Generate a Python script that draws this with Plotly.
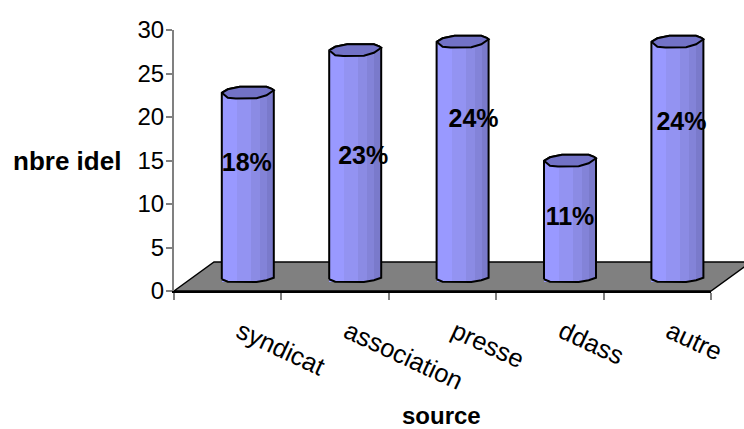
import plotly.graph_objects as go

# Data
categories = ["syndicat", "association", "presse", "ddass", "autre"]
nbre_idel = [22, 27, 28, 14, 28]
parts = ["18%", "23%", "24%", "11%", "24%"]
y_ticks = [0, 5, 10, 15, 20, 25, 30]

W, H = 744, 429
LEFT, RIGHT, TOP, BOTTOM = 174, 711, 30, 291   # front plane, pixels
UNIT_X = (RIGHT - LEFT) / 5
UNIT_Y = 8.5           # pixels per unit on the mid-depth plane
COL_ZERO = 279.3       # pixel row of value 0 on the mid-depth plane
COL_FIRST = 247.8      # pixel column of the first cylinder axis
LABEL_FIRST = 240      # pixel column where the first category label starts
FONT = "Liberation Sans"

# Facets of the cylinder body, left to right: (pixels from axis, width, colour)
FACETS = [
    (-26, 15, "#9999ff"),
    (-11, 14, "#9393f2"),
    (3, 9, "#8b8be4"),
    (12, 7, "#8383d8"),
    (19, 7, "#7a7acb"),
]
CAP_BACK = [(-26, -0.5), (-20, 3), (-8, 5.5), (18.7, 5.5), (24, 3.5), (26, 2)]
CAP_FRONT = [(26, 2), (18.7, -3), (8.7, -6), (-12, -6.3), (-20, -5.5), (-26, -0.5)]
FOOT = [(-26, 0), (-20, -2.4), (8.7, -2.7), (18.7, -1), (26, 1.5)]

# Data label centres: (pixels from axis, height on the value scale)
LABEL_SPOTS = [(-1, 13.5), (8, 14.3), (11, 18.6), (0, 7.1), (4, 18.3)]


def foot_drop(px):
    """Depth of the curved foot below value 0 at a pixel offset from the axis."""
    for (x0, y0), (x1, y1) in zip(FOOT, FOOT[1:]):
        if x0 <= px <= x1:
            return (y0 + (y1 - y0) * (px - x0) / (x1 - x0)) / UNIT_Y
    return 0


fig = go.Figure()

# Cylinder bodies, one bar trace per facet
for off, wid, colour in FACETS:
    mid = off + wid / 2
    fig.add_trace(go.Bar(
        x=[i + mid / UNIT_X for i in range(len(nbre_idel))],
        y=nbre_idel,
        base=[foot_drop(mid)] * len(nbre_idel),
        width=wid / UNIT_X,
        marker=dict(color=colour, line=dict(width=0)),
        xaxis="x2", yaxis="y2", showlegend=False, hoverinfo="skip",
    ))

# Outline and top cap of each cylinder
for i, v in enumerate(nbre_idel):
    xs = [i + p / UNIT_X for p, _ in FOOT]
    ys = [q / UNIT_Y for _, q in FOOT]
    xs += [i + p / UNIT_X for p, _ in CAP_BACK[::-1]] + [i - 26 / UNIT_X, xs[0]]
    ys += [v + q / UNIT_Y for _, q in CAP_BACK[::-1]] + [v - 0.5 / UNIT_Y, ys[0]]
    fig.add_trace(go.Scatter(
        x=xs, y=ys, mode="lines", line=dict(color="black", width=2),
        xaxis="x2", yaxis="y2", showlegend=False, hoverinfo="skip",
    ))
    ring = CAP_BACK + CAP_FRONT[1:]
    fig.add_trace(go.Scatter(
        x=[i + p / UNIT_X for p, _ in ring],
        y=[v + q / UNIT_Y for _, q in ring],
        mode="lines", fill="toself", fillcolor="#7272c6",
        line=dict(color="black", width=2),
        xaxis="x2", yaxis="y2", showlegend=False, hoverinfo="skip",
    ))

# Percentage labels
fig.add_trace(go.Scatter(
    x=[i + LABEL_SPOTS[i][0] / UNIT_X for i in range(len(parts))],
    y=[s[1] for s in LABEL_SPOTS],
    text=[f"<b>{p}</b>" for p in parts],
    mode="text", textposition="middle center",
    textfont=dict(family=FONT, size=25, color="black"),
    xaxis="x2", yaxis="y2", showlegend=False, hoverinfo="skip",
))

# Floor of the 3D plot area
px_x = lambda p: p / W
px_y = lambda p: 1 - p / H
floor = [(LEFT, BOTTOM), (LEFT + 40, 262), (RIGHT + 40, 262), (RIGHT, BOTTOM)]
path = "M " + " L ".join(f"{px_x(a):.5f},{px_y(b):.5f}" for a, b in floor) + " Z"
fig.add_shape(type="path", path=path, xref="paper", yref="paper", layer="below",
              fillcolor="#808080", line=dict(color="black", width=1.5))

dom_x = [LEFT / W, RIGHT / W]
dom_y = [px_y(BOTTOM), px_y(TOP)]
fig.update_layout(
    width=W, height=H, autosize=False,
    margin=dict(l=0, r=0, t=0, b=0, autoexpand=False),
    paper_bgcolor="white", plot_bgcolor="rgba(0,0,0,0)",
    barmode="overlay", bargap=0,
    font=dict(family=FONT, color="black"),
    # Front plane: tick marks between categories and the value scale
    xaxis=dict(domain=dom_x, range=[0, 5], tickvals=[0, 1, 2, 3, 4, 5], ticktext=[" "] * 6,
               ticks="outside", ticklen=7, tickcolor="#808080", tickwidth=1.5,
               showline=True, linecolor="black", linewidth=1.5, showgrid=False,
               zeroline=False, anchor="y"),
    yaxis=dict(domain=dom_y, range=[0, 30], tickvals=y_ticks,
               ticks="outside", ticklen=6, tickcolor="#808080", tickwidth=1.5,
               showline=True, linecolor="#808080", linewidth=2, showgrid=False,
               zeroline=False, anchor="x", ticklabelstandoff=-3,
               tickfont=dict(family=FONT, size=24, color="black")),
    # Mid-depth plane carrying the cylinders
    xaxis2=dict(domain=dom_x, overlaying="x", anchor="y2", visible=False,
                range=[(LEFT - COL_FIRST) / UNIT_X, (RIGHT - COL_FIRST) / UNIT_X]),
    yaxis2=dict(domain=dom_y, overlaying="y", anchor="x2", visible=False,
                range=[(COL_ZERO - BOTTOM) / UNIT_Y, (COL_ZERO - TOP) / UNIT_Y]),
    # Category labels, slanted and starting just left of each cylinder axis
    xaxis3=dict(domain=dom_x, overlaying="x", anchor="y",
                range=[(LEFT - LABEL_FIRST) / UNIT_X, (RIGHT - LABEL_FIRST) / UNIT_X],
                tickvals=list(range(len(categories))), ticktext=categories,
                tickangle=25, ticks="outside", ticklen=15, tickcolor="rgba(0,0,0,0)",
                showgrid=False, zeroline=False, showline=False,
                tickfont=dict(family=FONT, size=25.5, color="black")),
    annotations=[
        dict(text="<b>nbre idel</b>", x=px_x(67), y=px_y(161), xref="paper", yref="paper",
             xanchor="center", yanchor="middle", showarrow=False,
             font=dict(family=FONT, size=26, color="black")),
        dict(text="<b>source</b>", x=px_x(441), y=px_y(415), xref="paper", yref="paper",
             xanchor="center", yanchor="middle", showarrow=False,
             font=dict(family=FONT, size=24, color="black")),
    ],
)
# Invisible anchors so the front-plane and label axes are drawn
for ax in ("x", "x3"):
    fig.add_trace(go.Scatter(x=[0], y=[0], mode="markers", marker=dict(opacity=0),
                             xaxis=ax, yaxis="y", showlegend=False, hoverinfo="skip"))

fig.write_html("out.html")
